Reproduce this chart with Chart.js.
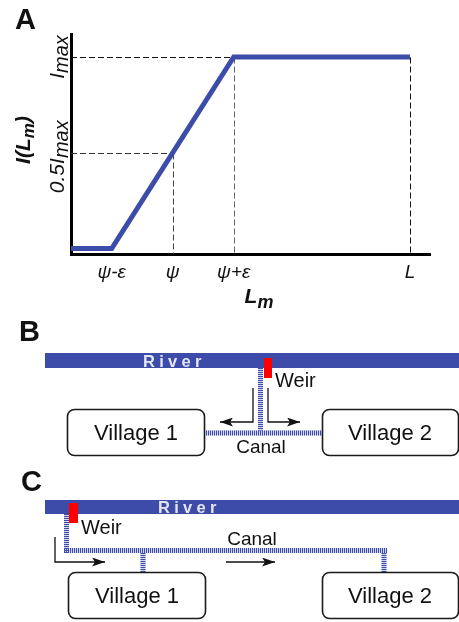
<!DOCTYPE html>
<html>
<head>
<meta charset="utf-8">
<script src="https://cdn.jsdelivr.net/npm/chart.js@4.4.1/dist/chart.umd.min.js"></script>
<style>
  html, body { margin:0; padding:0; background:#fff; }
  #page { position:relative; width:459px; height:622px; overflow:hidden; font-family:"Liberation Sans", Arial, sans-serif; }
  #curve { position:absolute; left:0; top:0; }
  #sketch { position:absolute; left:0; top:0; }
  #sketch text { font-family:"Liberation Sans", Arial, sans-serif; fill:#111; }
  .canal { stroke:#3c4ca8; stroke-width:5; stroke-dasharray:1 1; fill:none; }
  .canalBase { stroke:#d3d8f0; stroke-width:5; fill:none; }
  .arrow { stroke:#111; stroke-width:1.3; fill:none; }
  .village { fill:#fff; stroke:#1a1a1a; stroke-width:1.6; }
</style>
</head>
<body>
<div id="page">
  <canvas id="curve" width="459" height="310"></canvas>
  <svg id="sketch" width="459" height="622">
    <defs>
      <marker id="head" viewBox="0 0 13 9" refX="13" refY="4.5" markerWidth="13" markerHeight="9" markerUnits="userSpaceOnUse" orient="auto">
        <path d="M0,0 L13,4.5 L0,9 L3,4.5 z" fill="#111"/>
      </marker>
    </defs>
    <text x="15" y="29" font-size="29" font-weight="bold">A</text>

    <!-- B: weir in the middle, canal split both ways -->
    <text x="19" y="341" font-size="29" font-weight="bold">B</text>
    <rect x="45" y="353" width="414" height="15" fill="#3c4ca8"/>
    <text x="143" y="367" font-size="16.5" font-weight="bold" letter-spacing="4.3" style="fill:#e4e6f2">River</text>
    <line class="canalBase" x1="260.5" y1="368" x2="260.5" y2="436"/>
    <line class="canal" x1="260.5" y1="368" x2="260.5" y2="436"/>
    <line class="canalBase" x1="206" y1="433" x2="322" y2="433"/>
    <line class="canal" x1="206" y1="433" x2="322" y2="433"/>
    <rect x="264" y="358" width="8" height="20" fill="#ff0000"/>
    <text x="275" y="387" font-size="20">Weir</text>
    <polyline class="arrow" points="253,388 253,422 220,422" marker-end="url(#head)"/>
    <polyline class="arrow" points="268,388 268,422 300,422" marker-end="url(#head)"/>
    <rect class="village" x="67.5" y="409.5" width="137" height="46" rx="7"/>
    <text x="136" y="440" font-size="22" text-anchor="middle">Village 1</text>
    <rect class="village" x="322.5" y="409.5" width="136" height="46" rx="7"/>
    <text x="390" y="440" font-size="22" text-anchor="middle">Village 2</text>
    <text x="261" y="453" font-size="19" text-anchor="middle">Canal</text>

    <!-- C: weir upstream, one canal passing both villages -->
    <text x="21" y="491" font-size="29" font-weight="bold">C</text>
    <rect x="45" y="500" width="414" height="14" fill="#3c4ca8"/>
    <text x="158" y="513" font-size="16.5" font-weight="bold" letter-spacing="4.3" style="fill:#e4e6f2">River</text>
    <path class="canalBase" d="M66.5,514 V550.5 H386.5 M143,553 V572 M384,553 V572"/>
    <line class="canal" x1="66.5" y1="514" x2="66.5" y2="553"/>
    <line class="canal" x1="64" y1="550.5" x2="388" y2="550.5"/>
    <line class="canal" x1="143" y1="553" x2="143" y2="572"/>
    <line class="canal" x1="384" y1="553" x2="384" y2="572"/>
    <rect x="69" y="503" width="9" height="20" fill="#ff0000"/>
    <text x="81" y="534" font-size="20">Weir</text>
    <polyline class="arrow" points="55,537 55,562 105,562" marker-end="url(#head)"/>
    <line class="arrow" x1="226" y1="562" x2="275" y2="562" marker-end="url(#head)"/>
    <text x="252" y="545" font-size="19" text-anchor="middle">Canal</text>
    <rect class="village" x="68.5" y="572.5" width="137" height="46" rx="7"/>
    <text x="137" y="603" font-size="22" text-anchor="middle">Village 1</text>
    <rect class="village" x="322.5" y="572.5" width="136" height="46" rx="7"/>
    <text x="390" y="603" font-size="22" text-anchor="middle">Village 2</text>
  </svg>
</div>
<script>
// panel A: piecewise-linear intake I(L_m)
const curveX = [0, 0.12, 0.48, 1.0];   // 0, psi-eps, psi+eps, L
const curveY = [0, 0, 1, 1];           // fraction of I_max
const xTickValues = [0.12, 0.30, 0.48, 1.0];
const xTickLabels = ['ψ-ε', 'ψ', 'ψ+ε', 'L'];
const yTickValues = [0.5, 1];
const yTickLabels = [['0.5I', 'max'], ['I', 'max']];
// guide lines from the curve down to the x axis (and across to the y axis)
const guideX = [0.30, 0.48, 1.0];
const guideY = [0.5, 1, 1];
const guideHoriz = [true, true, false];
const guideVColor = ['#444', '#666', '#111'];
const guideHColor = ['#333', '#111', '#111'];

const BLUE = '#3c4ca8';
const FONT = '"Liberation Sans", Arial, sans-serif';

function drawParts(ctx, parts, cx, cy, rot){
  ctx.save();
  ctx.translate(cx, cy);
  ctx.rotate(rot);
  let total = 0;
  parts.forEach(p=>{ ctx.font = p.font; p.w = ctx.measureText(p.t).width; total += p.w; });
  let x = -total/2;
  ctx.textAlign = 'left';
  ctx.textBaseline = 'alphabetic';
  ctx.fillStyle = '#111';
  parts.forEach(p=>{ ctx.font = p.font; ctx.fillText(p.t, x, p.dy || 0); x += p.w; });
  ctx.restore();
}

const labelPlugin = {
  id:'labels',
  beforeDatasetsDraw(chart){
    const {ctx, scales:{x, y}} = chart;
    ctx.save();
    ctx.lineWidth = 1;
    ctx.setLineDash([6, 3]);
    guideX.forEach((gx, i)=>{
      const px = Math.round(x.getPixelForValue(gx)) + 0.5, py = Math.round(y.getPixelForValue(guideY[i])) + 0.5;
      ctx.strokeStyle = guideVColor[i];
      ctx.beginPath();
      ctx.moveTo(px, py); ctx.lineTo(px, chart.chartArea.bottom);
      ctx.stroke();
      if(guideHoriz[i]){
        ctx.strokeStyle = guideHColor[i];
        ctx.beginPath();
        ctx.moveTo(chart.chartArea.left, py); ctx.lineTo(px, py);
        ctx.stroke();
      }
    });
    ctx.restore();
  },
  afterDraw(chart){
    const {ctx, scales:{x, y}} = chart;
    xTickValues.forEach((v, i)=>{
      drawParts(ctx, [{t:xTickLabels[i], font:'italic 19px '+FONT}], x.getPixelForValue(v), 278, 0);
    });
    yTickValues.forEach((v, i)=>{
      const [a, b] = yTickLabels[i];
      drawParts(ctx, [{t:a, font:'italic 21px '+FONT}, {t:b, font:'italic 20px '+FONT, dy:4}], 64, y.getPixelForValue(v) + (i === 0 ? 4 : 0), -Math.PI/2);
    });
    drawParts(ctx, [{t:'L', font:'bold italic 21px '+FONT}, {t:'m', font:'bold italic 18px '+FONT, dy:5}], 259, 303, 0);
    drawParts(ctx, [{t:'I(L', font:'bold italic 21px '+FONT}, {t:'m', font:'bold italic 17px '+FONT, dy:4}, {t:')', font:'bold italic 21px '+FONT}], 30, 140, -Math.PI/2);
  }
};

new Chart(document.getElementById('curve'), {
  type:'line',
  data:{
    datasets:[{
      data: curveX.map((v, i)=>({x:v, y:curveY[i]})),
      borderColor: BLUE, borderWidth:5, pointRadius:0, tension:0, fill:false,
      borderCapStyle:'butt', borderJoinStyle:'miter', clip:false
    }]
  },
  options:{
    responsive:false, animation:false, events:[],
    layout:{padding:{left:0, top:34, right:29, bottom:0}},
    plugins:{legend:{display:false}, tooltip:{enabled:false}},
    scales:{
      x:{type:'linear', min:0, max:1.059,
         grid:{display:false, drawTicks:false}, border:{display:true, width:3, color:'#000'},
         ticks:{display:false}, afterFit(s){ s.height = 56; }},
      y:{type:'linear', min:-0.0287, max:1.12,
         grid:{display:false, drawTicks:false}, border:{display:true, width:3, color:'#000'},
         ticks:{display:false}, afterFit(s){ s.width = 71; }}
    }
  },
  plugins:[labelPlugin]
});
</script>
</body>
</html>
